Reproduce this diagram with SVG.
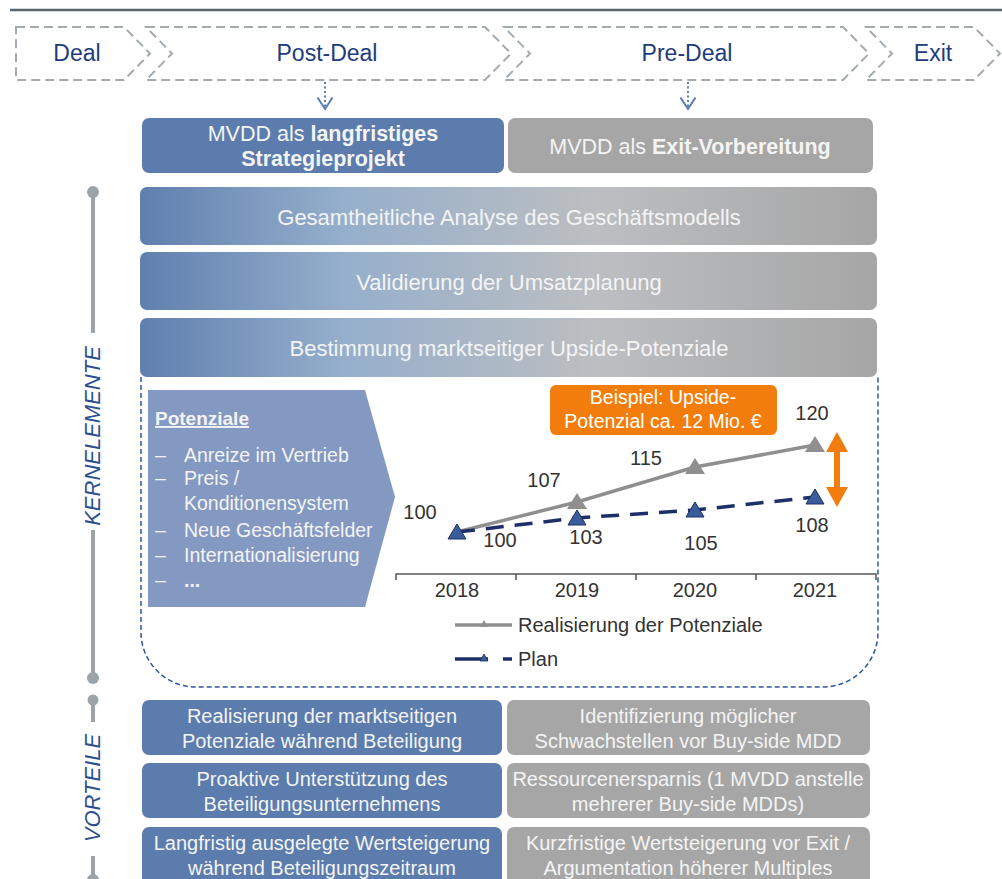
<svg xmlns="http://www.w3.org/2000/svg" width="1002" height="879" viewBox="0 0 1002 879">
  <defs>
    <linearGradient id="rowGrad" x1="0" y1="0" x2="1" y2="0">
      <stop offset="0" stop-color="#5f7fae"/>
      <stop offset="0.28" stop-color="#96afcc"/>
      <stop offset="0.62" stop-color="#bcbec1"/>
      <stop offset="1" stop-color="#a6a6a6"/>
    </linearGradient>
    <marker id="vHead" viewBox="0 0 14 18" refX="12.5" refY="9" markerWidth="14" markerHeight="18" markerUnits="userSpaceOnUse" orient="auto">
      <path d="M1,1.5 L12.5,9 L1,16.5" fill="none" stroke="#5b7db1" stroke-width="2"/>
    </marker>
  </defs>
  <style>
    text { font-family: "Liberation Sans", Arial, sans-serif; }
    .phase { fill: none; stroke: #a3abb0; stroke-width: 2; stroke-dasharray: 9 5; }
    .phaseText { font-size: 23px; fill: #1d3c7d; text-anchor: middle; }
    .blue { fill: #5b7cad; }
    .gray { fill: #a6a6a6; }
    .boxText { font-size: 20px; fill: #f4f4f4; text-anchor: middle; }
    .headText { font-size: 21.5px; fill: #f4f4f4; text-anchor: middle; }
    .rowText { font-size: 22px; fill: #f4f4f4; text-anchor: middle; }
    .listText { font-size: 19.5px; fill: #f4f4f4; }
    .num { font-size: 20px; fill: #333333; text-anchor: middle; }
    .legend { font-size: 20px; fill: #333333; }
    .sideLabel { font-size: 22px; font-style: italic; fill: #2c4f8f; text-anchor: middle; }
    .rail { stroke: #9ba4a9; stroke-width: 4; }
    .knob { fill: #9ba4a9; }
    .dotLink { stroke: #5b7db1; stroke-width: 2; stroke-dasharray: 2 2.5; fill: none; }
  </style>

  <!-- header rule -->
  <line x1="10" y1="10" x2="1002" y2="10" stroke="#5a666e" stroke-width="2.5"/>

  <!-- phase chevrons -->
  <g id="phase-deal">
    <path class="phase" d="M16,27 H124 L150,53.5 L124,80 H16 Z"/>
    <text class="phaseText" x="77" y="61">Deal</text>
  </g>
  <g id="phase-post-deal">
    <path class="phase" d="M146,27 H485 L511,53.5 L485,80 H146 L172,53.5 Z"/>
    <text class="phaseText" x="327" y="61">Post-Deal</text>
  </g>
  <g id="phase-pre-deal">
    <path class="phase" d="M504,27 H843 L869,53.5 L843,80 H504 L530,53.5 Z"/>
    <text class="phaseText" x="687" y="61">Pre-Deal</text>
  </g>
  <g id="phase-exit">
    <path class="phase" d="M866,27 H974 L1000,53.5 L974,80 H866 L892,53.5 Z"/>
    <text class="phaseText" x="933" y="61">Exit</text>
  </g>

  <!-- connectors -->
  <g id="connectors">
    <line class="dotLink" x1="325" y1="82" x2="325" y2="109" marker-end="url(#vHead)"/>
    <line class="dotLink" x1="688" y1="82" x2="688" y2="109" marker-end="url(#vHead)"/>
  </g>

  <!-- approach boxes -->
  <g id="approach-strategy">
    <rect class="blue" x="142" y="118" width="362" height="55" rx="7"/>
    <text class="headText" x="323" y="141">MVDD als <tspan font-weight="bold">langfristiges</tspan></text>
    <text class="headText" x="323" y="166" font-weight="bold">Strategieprojekt</text>
  </g>
  <g id="approach-exit">
    <rect class="gray" x="508" y="118" width="365" height="55" rx="7"/>
    <text class="headText" x="690" y="154">MVDD als <tspan font-weight="bold">Exit-Vorbereitung</tspan></text>
  </g>

  <!-- side rail: Kernelemente -->
  <g id="rail-kernelemente">
    <line class="rail" x1="93" y1="192" x2="93" y2="333"/>
    <circle class="knob" cx="93" cy="192" r="6"/>
    <line class="rail" x1="93" y1="530" x2="93" y2="678"/>
    <circle class="knob" cx="93" cy="678" r="6"/>
    <text class="sideLabel" transform="translate(100,436) rotate(-90)">KERNELEMENTE</text>
  </g>

  <!-- core elements -->
  <g id="core-analyse">
    <rect x="140" y="187" width="737" height="58" rx="7" fill="url(#rowGrad)"/>
    <text class="rowText" x="509" y="225">Gesamtheitliche Analyse des Geschäftsmodells</text>
  </g>
  <g id="core-umsatz">
    <rect x="140" y="252" width="737" height="58" rx="7" fill="url(#rowGrad)"/>
    <text class="rowText" x="509" y="290">Validierung der Umsatzplanung</text>
  </g>
  <g id="core-upside">
    <rect x="140" y="318" width="737" height="59" rx="7" fill="url(#rowGrad)"/>
    <text class="rowText" x="509" y="356">Bestimmung marktseitiger Upside-Potenziale</text>
  </g>

  <!-- detail frame under the upside row -->
  <path id="upside-frame" d="M141,377 V632 A55,55 0 0 0 196,687 H823 A55,55 0 0 0 878,632 V377" fill="none" stroke="#2f55a0" stroke-width="1.5" stroke-dasharray="5 3"/>

  <!-- potential list arrow -->
  <g id="potenziale">
    <polygon points="148,390 365,390 395,497 365,607 148,607" fill="#8499c2"/>
    <text x="155" y="425" font-size="19px" font-weight="bold" fill="#f4f4f4" text-decoration="underline">Potenziale</text>
    <g class="listText">
      <text x="155" y="462">–</text><text x="184" y="462">Anreize im Vertrieb</text>
      <text x="155" y="485">–</text><text x="184" y="485">Preis /</text>
      <text x="184" y="510">Konditionensystem</text>
      <text x="155" y="537">–</text><text x="184" y="537">Neue Geschäftsfelder</text>
      <text x="155" y="562">–</text><text x="184" y="562">Internationalisierung</text>
      <text x="155" y="587">–</text><text x="184" y="587" font-weight="bold">...</text>
    </g>
  </g>

  <!-- chart -->
  <g id="chart">
    <path d="M396,580 V574 H876 V580 M516,574 V580 M636,574 V580 M756,574 V580" fill="none" stroke="#555555" stroke-width="1.5"/>
    <text class="num" x="457" y="597">2018</text>
    <text class="num" x="577" y="597">2019</text>
    <text class="num" x="695" y="597">2020</text>
    <text class="num" x="815" y="597">2021</text>

    <!-- realised potential -->
    <polyline points="457,532 577,502 695,467 815,445" fill="none" stroke="#8f8f8f" stroke-width="3.5"/>
    <g fill="#8f8f8f">
      <polygon points="577,493 587,509 567,509"/>
      <polygon points="695,458 705,474 685,474"/>
      <polygon points="815,436 825,452 805,452"/>
    </g>

    <!-- plan -->
    <polyline points="457,532 577,518 695,510 815,497" fill="none" stroke="#1c2f68" stroke-width="3.5" stroke-dasharray="18 11"/>
    <g fill="#3b5c9b" stroke="#1c2f68" stroke-width="1">
      <polygon points="457,524 466,539 448,539"/>
      <polygon points="577,510 586,525 568,525"/>
      <polygon points="695,502 704,517 686,517"/>
      <polygon points="815,489 824,504 806,504"/>
    </g>

    <g>
      <text class="num" x="420" y="519">100</text>
      <text class="num" x="500" y="547">100</text>
      <text class="num" x="544" y="487">107</text>
      <text class="num" x="586" y="544">103</text>
      <text class="num" x="646" y="465">115</text>
      <text class="num" x="701" y="550">105</text>
      <text class="num" x="812" y="420">120</text>
      <text class="num" x="812" y="532">108</text>
    </g>

    <!-- upside gap -->
    <path d="M837,432 L848,452 H840 V487 H848 L837,507 L826,487 H834 V452 H826 Z" fill="#f27d0c"/>
  </g>

  <g id="callout-upside">
    <rect x="550" y="385" width="227" height="50" rx="6" fill="#f27d0c"/>
    <text x="663" y="404" font-size="19.5px" fill="#ffffff" text-anchor="middle">Beispiel: Upside-</text>
    <text x="663" y="428" font-size="19.5px" fill="#ffffff" text-anchor="middle">Potenzial ca. 12 Mio. €</text>
  </g>

  <!-- legend -->
  <g id="legend">
    <line x1="455" y1="625" x2="512" y2="625" stroke="#8f8f8f" stroke-width="3.5"/>
    <polygon points="484,620 488,627 480,627" fill="#8f8f8f"/>
    <text class="legend" x="518" y="632">Realisierung der Potenziale</text>
    <line x1="455" y1="659" x2="488" y2="659" stroke="#1c2f68" stroke-width="3.5"/>
    <line x1="503" y1="659" x2="512" y2="659" stroke="#1c2f68" stroke-width="3.5"/>
    <polygon points="484,654 488,661 480,661" fill="#3b5c9b" stroke="#1c2f68" stroke-width="0.8"/>
    <text class="legend" x="518" y="666">Plan</text>
  </g>

  <!-- side rail: Vorteile -->
  <g id="rail-vorteile">
    <line class="rail" x1="93" y1="700" x2="93" y2="722"/>
    <circle class="knob" cx="93" cy="700" r="5.5"/>
    <line class="rail" x1="93" y1="856" x2="93" y2="879"/>
    <circle class="knob" cx="93" cy="880" r="6"/>
    <text class="sideLabel" transform="translate(100,788) rotate(-90)">VORTEILE</text>
  </g>

  <!-- benefits -->
  <g id="benefit-realisierung">
    <rect class="blue" x="142" y="700" width="360" height="55" rx="7"/>
    <text class="boxText" x="322" y="723">Realisierung der marktseitigen</text>
    <text class="boxText" x="322" y="748">Potenziale während Beteiligung</text>
  </g>
  <g id="benefit-schwachstellen">
    <rect class="gray" x="507" y="700" width="363" height="55" rx="7"/>
    <text class="boxText" x="688" y="723">Identifizierung möglicher</text>
    <text class="boxText" x="688" y="748">Schwachstellen vor Buy-side MDD</text>
  </g>
  <g id="benefit-unterstuetzung">
    <rect class="blue" x="142" y="763" width="360" height="55" rx="7"/>
    <text class="boxText" x="322" y="786">Proaktive Unterstützung des</text>
    <text class="boxText" x="322" y="811">Beteiligungsunternehmens</text>
  </g>
  <g id="benefit-ressourcen">
    <rect class="gray" x="507" y="763" width="363" height="55" rx="7"/>
    <text class="boxText" x="688" y="786">Ressourcenersparnis (1 MVDD anstelle</text>
    <text class="boxText" x="688" y="811">mehrerer Buy-side MDDs)</text>
  </g>
  <g id="benefit-langfristig">
    <rect class="blue" x="142" y="827" width="360" height="60" rx="7"/>
    <text class="boxText" x="322" y="850">Langfristig ausgelegte Wertsteigerung</text>
    <text class="boxText" x="322" y="875">während Beteiligungszeitraum</text>
  </g>
  <g id="benefit-kurzfristig">
    <rect class="gray" x="507" y="827" width="363" height="60" rx="7"/>
    <text class="boxText" x="688" y="850">Kurzfristige Wertsteigerung vor Exit /</text>
    <text class="boxText" x="688" y="875">Argumentation höherer Multiples</text>
  </g>
</svg>
